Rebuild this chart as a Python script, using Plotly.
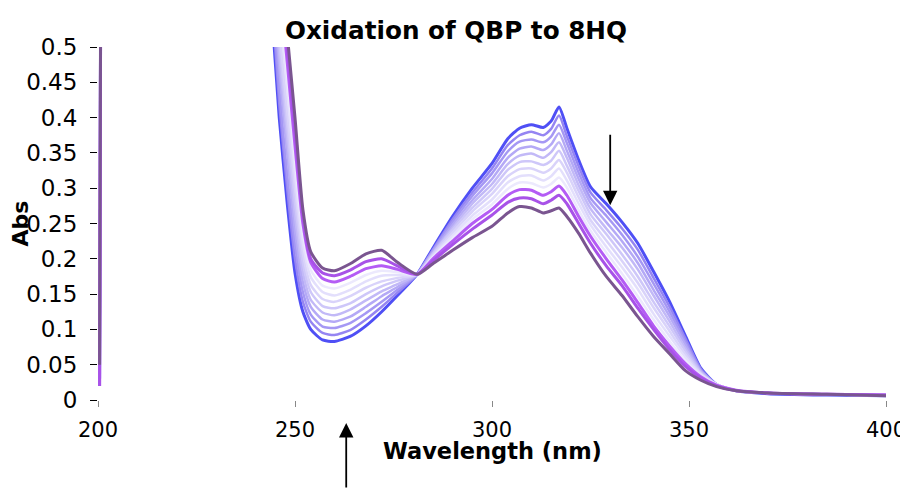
import plotly.graph_objects as go

# Wavelength grid (nm)
wavelength = [200.4, 201, 202.5, 240, 244, 246, 248, 250, 252, 254, 257, 260, 264, 268, 272, 276,
              281, 285, 290, 295, 300, 304, 307, 310, 313, 315, 317, 319, 322, 325, 329, 333,
              337, 341, 345, 349, 353, 357, 362, 370, 385, 400]

# Absorbance spectra (first scan -> last scan)
abs_t0 = [0.03, 1.2, 2.0, 0.9, 0.56, 0.40, 0.28, 0.18, 0.125, 0.10, 0.085, 0.083, 0.09, 0.105, 0.125, 0.148,
          0.178, 0.215, 0.26, 0.30, 0.335, 0.37, 0.385, 0.39, 0.386, 0.395, 0.415, 0.385, 0.34, 0.302, 0.278, 0.252,
          0.222, 0.182, 0.14, 0.092, 0.045, 0.022, 0.013, 0.009, 0.007, 0.006]
abs_t1 = [0.03, 1.2, 2.0, 0.92, 0.58, 0.42, 0.30, 0.20, 0.139, 0.111, 0.095, 0.092, 0.099, 0.114, 0.132, 0.152,
          0.178, 0.213, 0.256, 0.294, 0.328, 0.361, 0.375, 0.380, 0.375, 0.384, 0.403, 0.374, 0.331, 0.294, 0.269, 0.243,
          0.213, 0.173, 0.133, 0.088, 0.044, 0.022, 0.013, 0.01, 0.008, 0.006]
abs_t2 = [0.03, 1.2, 2.0, 0.94, 0.60, 0.44, 0.32, 0.22, 0.153, 0.121, 0.104, 0.102, 0.109, 0.123, 0.139, 0.156,
          0.178, 0.212, 0.252, 0.289, 0.321, 0.352, 0.366, 0.369, 0.365, 0.373, 0.390, 0.364, 0.322, 0.286, 0.261, 0.234,
          0.203, 0.165, 0.126, 0.083, 0.042, 0.022, 0.013, 0.01, 0.008, 0.006]
abs_t3 = [0.03, 1.2, 2.0, 0.97, 0.62, 0.47, 0.35, 0.24, 0.167, 0.132, 0.114, 0.111, 0.118, 0.132, 0.147, 0.160,
          0.178, 0.210, 0.248, 0.283, 0.313, 0.343, 0.356, 0.359, 0.354, 0.362, 0.378, 0.353, 0.313, 0.279, 0.252, 0.225,
          0.194, 0.156, 0.119, 0.079, 0.041, 0.022, 0.013, 0.01, 0.008, 0.006]
abs_t4 = [0.03, 1.2, 2.0, 0.99, 0.64, 0.49, 0.37, 0.26, 0.181, 0.142, 0.124, 0.120, 0.128, 0.141, 0.154, 0.164,
          0.178, 0.208, 0.244, 0.278, 0.306, 0.334, 0.346, 0.349, 0.343, 0.351, 0.365, 0.343, 0.304, 0.271, 0.243, 0.216,
          0.185, 0.148, 0.112, 0.074, 0.040, 0.022, 0.013, 0.01, 0.008, 0.006]
abs_t5 = [0.03, 1.2, 2.0, 1.01, 0.67, 0.51, 0.39, 0.28, 0.194, 0.153, 0.133, 0.130, 0.137, 0.150, 0.161, 0.169,
          0.178, 0.207, 0.241, 0.272, 0.299, 0.326, 0.337, 0.338, 0.333, 0.339, 0.353, 0.332, 0.296, 0.263, 0.235, 0.206,
          0.175, 0.139, 0.105, 0.070, 0.038, 0.022, 0.013, 0.01, 0.008, 0.006]
abs_t6 = [0.03, 1.2, 2.0, 1.03, 0.69, 0.53, 0.41, 0.30, 0.208, 0.163, 0.143, 0.139, 0.147, 0.159, 0.168, 0.173,
          0.178, 0.205, 0.237, 0.267, 0.292, 0.317, 0.327, 0.328, 0.322, 0.328, 0.340, 0.322, 0.287, 0.255, 0.226, 0.197,
          0.166, 0.131, 0.098, 0.065, 0.037, 0.022, 0.013, 0.01, 0.008, 0.007]
abs_t7 = [0.03, 1.2, 2.0, 1.06, 0.71, 0.56, 0.44, 0.32, 0.222, 0.174, 0.153, 0.148, 0.156, 0.168, 0.176, 0.177,
          0.178, 0.203, 0.233, 0.261, 0.284, 0.308, 0.317, 0.318, 0.311, 0.317, 0.328, 0.311, 0.278, 0.248, 0.217, 0.188,
          0.157, 0.122, 0.091, 0.061, 0.036, 0.022, 0.013, 0.01, 0.008, 0.007]
abs_t8 = [0.27, 1.2, 2.0, 1.08, 0.73, 0.58, 0.46, 0.34, 0.236, 0.184, 0.162, 0.158, 0.166, 0.177, 0.183, 0.181,
          0.178, 0.202, 0.229, 0.256, 0.277, 0.299, 0.308, 0.307, 0.301, 0.306, 0.315, 0.301, 0.269, 0.240, 0.209, 0.179,
          0.147, 0.114, 0.084, 0.056, 0.034, 0.022, 0.013, 0.01, 0.008, 0.007]
abs_t9 = [0.02, 1.2, 2.0, 1.1, 0.75, 0.6, 0.48, 0.36, 0.25, 0.195, 0.172, 0.167, 0.175, 0.186, 0.19, 0.185,
          0.178, 0.2, 0.225, 0.25, 0.27, 0.29, 0.298, 0.297, 0.29, 0.295, 0.303, 0.29, 0.26, 0.232, 0.2, 0.17,
          0.138, 0.105, 0.077, 0.052, 0.033, 0.021, 0.014, 0.01, 0.008, 0.007]
abs_t10 = [0.02, 1.2, 2.0, 1.15, 0.78, 0.62, 0.5, 0.38, 0.26, 0.2, 0.18, 0.176, 0.184, 0.196, 0.2, 0.19,
           0.178, 0.197, 0.22, 0.242, 0.262, 0.28, 0.286, 0.285, 0.278, 0.283, 0.29, 0.278, 0.25, 0.222, 0.19, 0.162,
           0.13, 0.1, 0.072, 0.048, 0.031, 0.02, 0.013, 0.01, 0.008, 0.007]
abs_t11 = [0.05, 1.2, 2.0, 1.2, 0.8, 0.65, 0.52, 0.40, 0.27, 0.21, 0.187, 0.183, 0.193, 0.207, 0.212, 0.195,
           0.178, 0.193, 0.212, 0.23, 0.246, 0.265, 0.274, 0.272, 0.265, 0.268, 0.272, 0.26, 0.236, 0.208, 0.175, 0.148,
           0.118, 0.09, 0.066, 0.042, 0.028, 0.019, 0.013, 0.01, 0.008, 0.006]

spectra = [abs_t0, abs_t1, abs_t2, abs_t3, abs_t4, abs_t5, abs_t6, abs_t7, abs_t8, abs_t9, abs_t10, abs_t11]
colors = ["#4f4ff5", "#9585f2", "#a598f4", "#b4a9f6", "#c2b9f7", "#cec7f9", "#d9d3fa", "#e3dffc", "#ece9fd",
          "#b45cf5", "#a852e8", "#7a5590"]
widths = [3, 2.5, 2.5, 2.5, 2.5, 2.5, 2.5, 2.5, 2.5, 3, 3, 3]

x_ticks = [200, 250, 300, 350, 400]
y_ticks = [0, 0.05, 0.1, 0.15, 0.2, 0.25, 0.3, 0.35, 0.4, 0.45, 0.5]
y_labels = ["0", "0.05", "0.1", "0.15", "0.2", "0.25", "0.3", "0.35", "0.4", "0.45", "0.5"]

FONT = "DejaVu Sans, Verdana, sans-serif"

fig = go.Figure()
for ys, c, w in zip(spectra, colors, widths):
    fig.add_trace(go.Scatter(x=wavelength, y=ys, mode="lines",
                             line=dict(color=c, width=w, shape="spline", smoothing=0.6),
                             showlegend=False, hoverinfo="skip"))

# the page body has an 8px margin; the figure is sized to fit the window without overflow
fig.update_layout(
    width=900, height=481,
    margin=dict(l=90, r=22, t=39, b=89, autoexpand=False),
    paper_bgcolor="white", plot_bgcolor="white",
    font=dict(family=FONT, color="black", size=23),
    title=dict(text="<b>Oxidation of QBP to 8HQ</b>", x=448 / 900, xref="container",
               y=1 - 22 / 481, yref="container", xanchor="center", yanchor="middle",
               font=dict(family=FONT, size=24.7, color="black")),
    showlegend=False,
)
fig.update_xaxes(range=[200, 400], tickvals=x_ticks, ticks="outside", ticklen=6, tickcolor="#888",
                 tickwidth=1, showline=False, showgrid=False, zeroline=False, automargin=False,
                 tickfont=dict(size=21), ticklabelstandoff=5, ticklabeloverflow="allow")
fig.update_yaxes(range=[0, 0.5], tickvals=y_ticks, ticktext=y_labels, ticks="outside", ticklen=7,
                 tickcolor="black", tickwidth=1, showline=False, showgrid=False, zeroline=False,
                 automargin=False, tickfont=dict(size=23), ticklabelstandoff=8)

# axis titles
fig.add_annotation(text="<b>Wavelength (nm)</b>", x=0.5, y=-51 / 353, xref="paper", yref="paper",
                   xanchor="center", yanchor="middle", showarrow=False, font=dict(size=22.5))
fig.add_annotation(text="<b>Abs</b>", x=-78 / 788, y=0.5, xref="paper", yref="paper", textangle=-90,
                   xanchor="center", yanchor="middle", showarrow=False, font=dict(size=22))

# arrows
fig.add_annotation(x=330, y=0.276, xref="x", yref="y", ax=0, ay=-72, text="",
                   showarrow=True, arrowhead=2, arrowsize=1.6, arrowwidth=1.8, arrowcolor="black")
fig.add_annotation(x=263, y=-23 / 353, xref="x", yref="paper", ax=0, ay=66, text="",
                   showarrow=True, arrowhead=2, arrowsize=1.6, arrowwidth=1.8, arrowcolor="black")

fig.write_html("out.html")
